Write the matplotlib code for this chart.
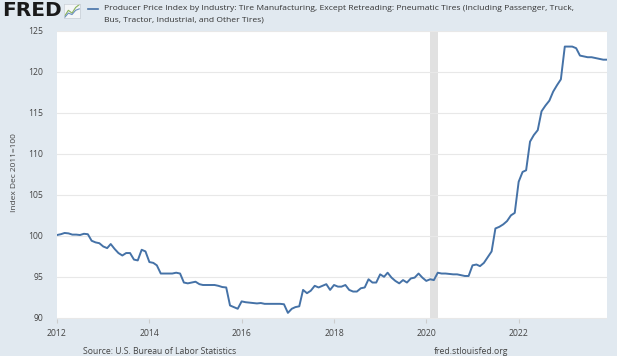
import numpy as np
import pandas as pd
import matplotlib
matplotlib.use("Agg")
import matplotlib.pyplot as plt
import matplotlib.dates as mdates

# monthly values, Index Dec 2011=100
ppi_2012 = [100.1, 100.2, 100.35, 100.3, 100.15, 100.15, 100.1, 100.25, 100.2, 99.4, 99.2, 99.1]
ppi_2013 = [98.7, 98.5, 99.0, 98.4, 97.9, 97.6, 97.9, 97.9, 97.1, 97.0, 98.3, 98.1]
ppi_2014 = [96.8, 96.7, 96.4, 95.4, 95.4, 95.4, 95.4, 95.5, 95.4, 94.3, 94.2, 94.3]
ppi_2015 = [94.4, 94.1, 94.0, 94.0, 94.0, 94.0, 93.9, 93.75, 93.7, 91.5, 91.3, 91.1]
ppi_2016 = [92.0, 91.9, 91.85, 91.8, 91.75, 91.8, 91.7, 91.7, 91.7, 91.7, 91.7, 91.65]
ppi_2017 = [90.6, 91.1, 91.3, 91.4, 93.4, 93.0, 93.3, 93.9, 93.7, 93.9, 94.1, 93.4]
ppi_2018 = [94.0, 93.8, 93.8, 94.0, 93.4, 93.2, 93.2, 93.6, 93.7, 94.7, 94.3, 94.3]
ppi_2019 = [95.3, 95.0, 95.5, 94.9, 94.5, 94.2, 94.6, 94.3, 94.8, 94.9, 95.4, 94.9]
ppi_2020 = [94.5, 94.7, 94.6, 95.5, 95.4, 95.4, 95.35, 95.3, 95.3, 95.2, 95.1, 95.1]
ppi_2021 = [96.4, 96.5, 96.3, 96.7, 97.4, 98.1, 100.9, 101.1, 101.4, 101.8, 102.5, 102.8]
ppi_2022 = [106.6, 107.8, 108.0, 111.5, 112.3, 112.9, 115.2, 115.9, 116.5, 117.6, 118.4, 119.1]
ppi_2023 = [123.1, 123.1, 123.1, 122.9, 122.0, 121.9, 121.8, 121.8, 121.7, 121.6, 121.5, 121.5]

recession_start = "2020-02-01"
recession_end = "2020-04-01"

y_ticks = [90, 95, 100, 105, 110, 115, 120, 125]
x_tick_years = [2012, 2014, 2016, 2018, 2020, 2022]

title_line1 = ("Producer Price Index by Industry: Tire Manufacturing, Except Retreading: "
               "Pneumatic Tires (Including Passenger, Truck,")
title_line2 = "Bus, Tractor, Industrial, and Other Tires)"

BG = "#e1e9f0"
LINE = "#4572a7"
FONT = "Open Sans"

values = np.concatenate([ppi_2012, ppi_2013, ppi_2014, ppi_2015, ppi_2016, ppi_2017,
                         ppi_2018, ppi_2019, ppi_2020, ppi_2021, ppi_2022, ppi_2023])
dates = pd.date_range("2012-01-01", periods=len(values), freq="MS")

W, H = 617, 356
fig = plt.figure(figsize=(W / 100, H / 100), dpi=100, facecolor=BG)

# plot area in pixel coordinates: x 57..607, y 31..319
ax = fig.add_axes([57 / W, 1 - 319 / H, 550 / W, 288 / H])
ax.set_facecolor("white")
for s in ax.spines.values():
    s.set_visible(False)

ax.axvspan(pd.Timestamp(recession_start), pd.Timestamp(recession_end),
           color="#e1e1e1", lw=0, zorder=1)
ax.plot(dates, values, color=LINE, lw=1.4, zorder=3, solid_joinstyle="round")

ax.set_ylim(89.85, 125)
ax.set_xlim(dates[0], dates[-1])
ax.set_yticks(y_ticks)
ax.yaxis.grid(True, color="#e8e8e8", lw=0.8, zorder=0)
ax.tick_params(axis="y", length=0, pad=10, labelsize=6.2, labelcolor="#444444")
ax.set_xticks([pd.Timestamp(f"{y}-01-01") for y in x_tick_years])
ax.xaxis.set_major_formatter(mdates.DateFormatter("%Y"))
ax.tick_params(axis="x", length=3, color="#cccccc", pad=4, labelsize=6.2, labelcolor="#444444")
for lab in ax.get_xticklabels() + ax.get_yticklabels():
    lab.set_family(FONT)

fig.text(15 / W, 1 - 173 / H, "Index Dec 2011=100", rotation=90, ha="center", va="center",
         fontsize=6, color="#444444", family=FONT)

# header: logo, legend dash and series title
fig.text(2 / W, 1 - 11 / H, "FRED", fontsize=14.5, fontweight="heavy", color="#1a1a1a",
         ha="left", va="center", family="DejaVu Sans")
icon = fig.add_axes([64 / W, 1 - 18 / H, 16 / W, 14 / H])
icon.set_facecolor("#f4f6f8")
icon.plot([0, 1, 2, 3, 4], [1, 3, 2, 4, 5], color="#8ab35a", lw=0.8)
icon.plot([0, 1, 2, 3, 4], [0.5, 2, 1.5, 3, 3.5], color="#6a8fbf", lw=0.8)
icon.set_xticks([])
icon.set_yticks([])
for s in icon.spines.values():
    s.set_color("#c8cfd6")
    s.set_linewidth(0.5)

fig.add_artist(plt.Line2D([88 / W, 98 / W], [1 - 9 / H, 1 - 9 / H], color=LINE, lw=1.2))
fig.text(104 / W, 1 - 9 / H, title_line1, fontsize=6.1, color="#333333", ha="left",
         va="center", family=FONT)
fig.text(104 / W, 1 - 20 / H, title_line2, fontsize=6.1, color="#333333", ha="left",
         va="center", family=FONT)

# footer
fig.text(83 / W, 1 - 352 / H, "Source: U.S. Bureau of Labor Statistics", fontsize=6.2,
         color="#444444", ha="left", va="center", family=FONT)
fig.text(434 / W, 1 - 352 / H, "fred.stlouisfed.org", fontsize=6.2,
         color="#444444", ha="left", va="center", family=FONT)

fig.savefig("out.png", dpi=100, facecolor=BG)
